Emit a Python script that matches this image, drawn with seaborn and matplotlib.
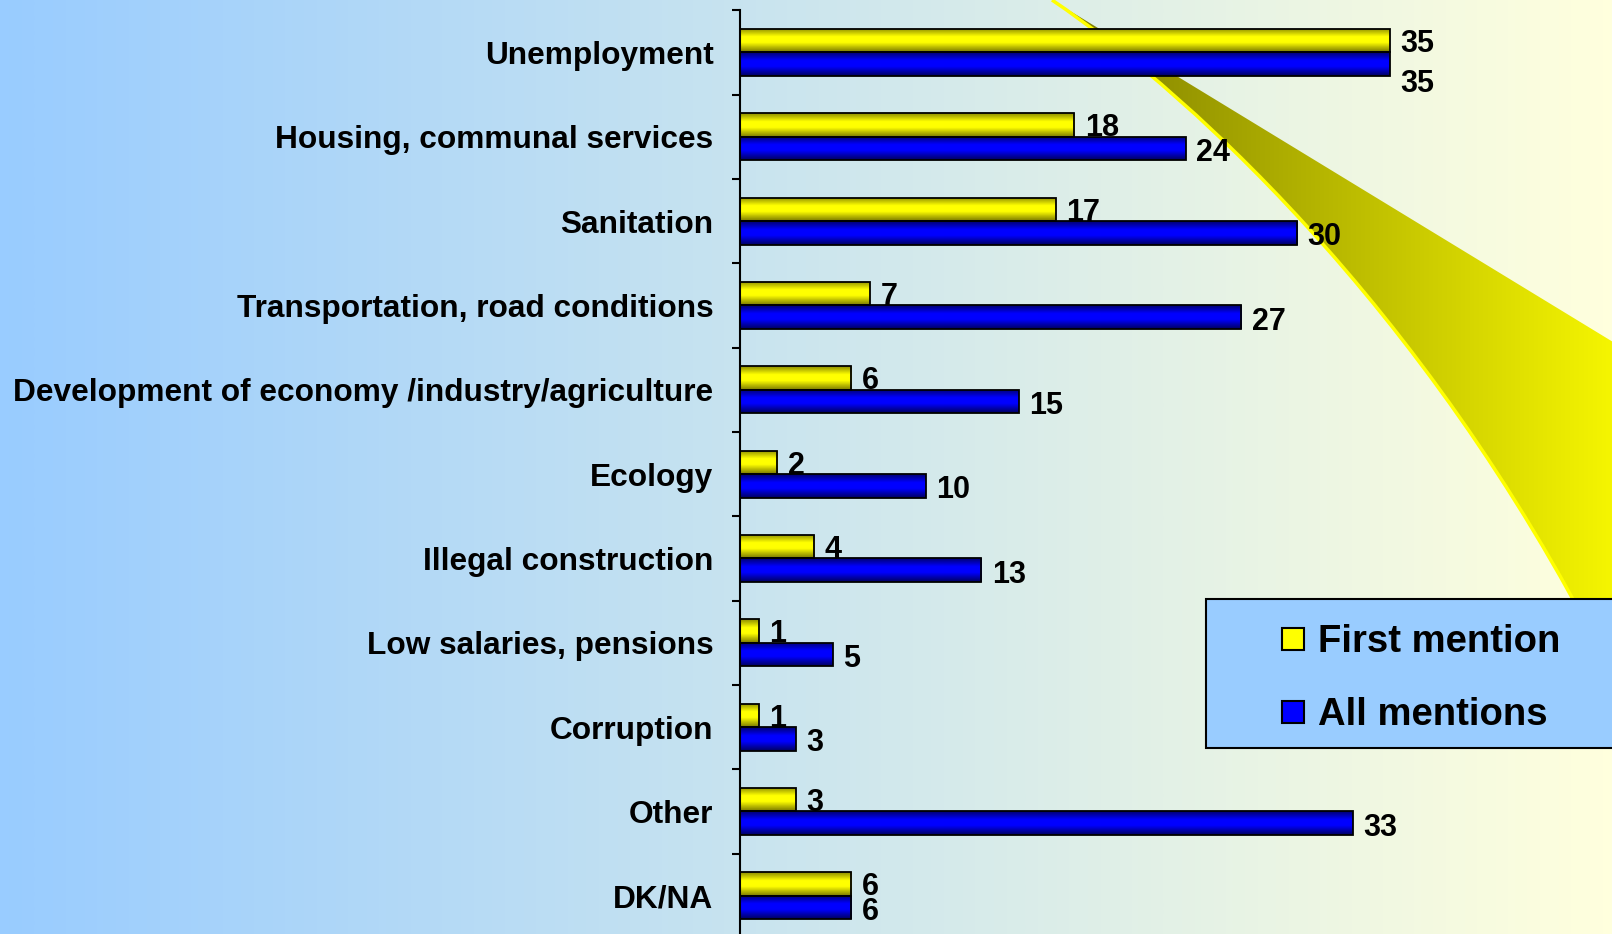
import numpy as np
import pandas as pd
import matplotlib.pyplot as plt
import seaborn as sns
from matplotlib.path import Path
from matplotlib.patches import PathPatch, Rectangle
from matplotlib.lines import Line2D
from matplotlib.colors import LinearSegmentedColormap

# data
categories = ["Unemployment", "Housing, communal services", "Sanitation",
              "Transportation, road conditions",
              "Development of economy /industry/agriculture", "Ecology",
              "Illegal construction", "Low salaries, pensions", "Corruption",
              "Other", "DK/NA"]
first_mention = [35, 18, 17, 7, 6, 2, 4, 1, 1, 3, 6]
all_mentions = [35, 24, 30, 27, 15, 10, 13, 5, 3, 33, 6]
series = ["First mention", "All mentions"]
bar_colors = ["#ffff00", "#0000ff"]

df = pd.DataFrame({
    "issue": categories * 2,
    "series": [series[0]] * len(categories) + [series[1]] * len(categories),
    "value": first_mention + all_mentions,
})

sns.set_theme(style="white")
plt.rcParams["font.family"] = ["Liberation Sans", "DejaVu Sans"]
plt.rcParams["font.weight"] = "bold"
plt.rcParams["text.color"] = "black"

W, H = 1612, 934
fig = plt.figure(figsize=(W / 100, H / 100), dpi=100)

# background: blue -> pale yellow gradient, plus the yellow swoosh
bg = fig.add_axes([0, 0, 1, 1], zorder=0)
bg_cmap = LinearSegmentedColormap.from_list("bg", ["#99ccff", "#ffffdd"])
bg.imshow(np.linspace(0, 1, 256)[None, :], cmap=bg_cmap, extent=[0, W, H, 0],
          aspect="auto", interpolation="bilinear")
bg.set_xlim(0, W)
bg.set_ylim(H, 0)
bg.axis("off")

swoosh = Path([(1052, 0), (1200, 100), (1445, 330), (1620, 690),
               (1700, 690), (1700, 395), (1052, 0)],
              [Path.MOVETO, Path.CURVE4, Path.CURVE4, Path.CURVE4,
               Path.LINETO, Path.LINETO, Path.CLOSEPOLY])
sw_patch = PathPatch(swoosh, facecolor="none", edgecolor="none")
bg.add_patch(sw_patch)
sw_cmap = LinearSegmentedColormap.from_list("sw", ["#7a7a00", "#f5f500"])
sw_im = bg.imshow(np.linspace(0, 1, 256)[None, :], cmap=sw_cmap,
                  extent=[1050, 1612, H, 0], aspect="auto", interpolation="bilinear")
sw_im.set_clip_path(sw_patch)
edge = Path([(1052, 0), (1200, 100), (1445, 330), (1620, 690)],
            [Path.MOVETO, Path.CURVE4, Path.CURVE4, Path.CURVE4])
bg.add_patch(PathPatch(edge, facecolor="none", edgecolor="#ffff00", lw=2.5))
bg.set_xlim(0, W)
bg.set_ylim(H, 0)

# legend box
bg.add_patch(Rectangle((1206, 599), 500, 149, facecolor="#99ccff",
                       edgecolor="black", lw=1.5, zorder=5))

# main bar chart
px_per_unit = (1390 - 740) / 35
ax = fig.add_axes([740 / W, (H - 938) / H, (W - 740) / W, (938 - 10.3) / H], zorder=1)
ax.patch.set_alpha(0)
sns.barplot(data=df, y="issue", x="value", hue="series", order=categories,
            hue_order=series, palette=bar_colors, saturation=1, width=0.56,
            edgecolor="black", linewidth=1.3, legend=False, ax=ax)

# cylinder-like shading on the bars
shades = [["#8c8c00", "#ffff00", "#ffff00", "#7a7a00"],
          ["#000070", "#0000ff", "#0000ff", "#000060"]]
for cont, sh in zip(ax.containers, shades):
    cmap = LinearSegmentedColormap.from_list("bar", list(zip([0, 0.35, 0.6, 1], sh)))
    for bar in cont:
        x0, y0 = bar.get_x(), bar.get_y()
        w, h = bar.get_width(), bar.get_height()
        im = ax.imshow(np.linspace(0, 1, 64)[:, None], cmap=cmap, aspect="auto",
                       extent=[x0, x0 + w, y0 + h, y0], interpolation="bilinear",
                       zorder=bar.get_zorder() - 0.1)
        im.set_clip_path(bar)
        bar.set_facecolor("none")

# value labels
for cont, dy in zip(ax.containers, [-2.5, -3.2]):
    labels = ax.bar_label(cont, padding=7.5, fontsize=22, fontweight="bold", color="black")
    for t in labels:
        t.xyann = (7.5, dy)
# the second "35" sits below its bar in the original
ax.texts[len(categories)].xyann = (7.5, -14)

ax.set_xlim(0, (W - 740) / px_per_unit)
ax.set_ylim(10.5, -0.5)
ax.set_xticks([])
ax.set_xlabel("")
ax.set_ylabel("")
sns.despine(ax=ax, bottom=True)
ax.spines["left"].set_color("black")
ax.spines["left"].set_linewidth(1.5)
ax.set_yticks(np.arange(-0.5, 11, 1), minor=True)
ax.tick_params(axis="y", which="major", length=0, pad=19, labelsize=22.8,
               labelcolor="black")
ax.tick_params(axis="y", which="minor", left=True, length=6, width=1.5,
               color="black", direction="out")
for lab in ax.get_yticklabels():
    lab.set_fontweight("bold")

handles = [Line2D([], [], ls="", marker="s", markersize=15.5, markerfacecolor=c,
                  markeredgecolor="black", markeredgewidth=1.5) for c in bar_colors]
fig.legend(handles, series, loc="upper left", bbox_to_anchor=(1274 / W, 1 - 624 / H),
           frameon=False, handlelength=1.0, handletextpad=0.15,
           labelspacing=0.97, borderpad=0, borderaxespad=0,
           prop={"weight": "bold", "size": 27.5})

fig.savefig("out.png", dpi=100)
